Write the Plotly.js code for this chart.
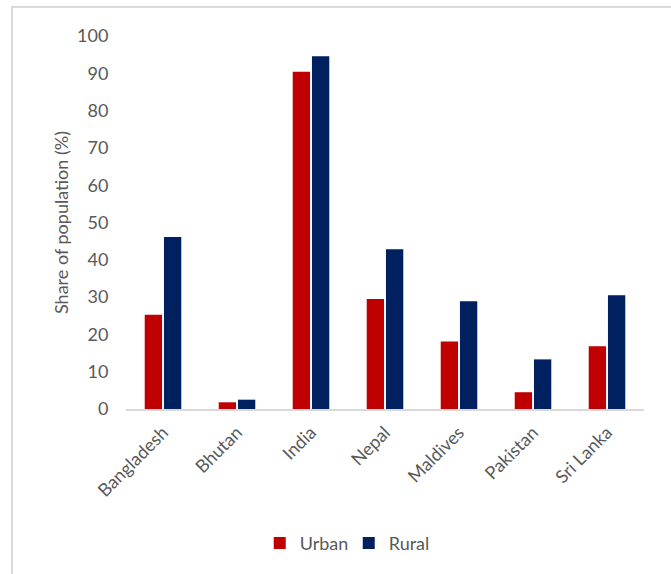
<!DOCTYPE html>
<html>
<head>
<meta charset="utf-8">
<script src="https://cdn.plot.ly/plotly-3.0.1.min.js"></script>
<style>
  html, body { margin: 0; padding: 0; background: #ffffff; }
  #wrap { position: relative; width: 671px; height: 574px; overflow: hidden; }
  #chart { position: absolute; left: 0; top: 0; width: 671px; height: 574px; }
  #frame { position: absolute; left: 11px; top: 6px; width: 700px; height: 600px;
           border-left: 2px solid #d9d9d9; border-top: 2px solid #d9d9d9; pointer-events: none; }
</style>
</head>
<body>
<div id="wrap">
  <div id="chart"></div>
  <div id="frame"></div>
</div>
<script>
// Share of population (%) by country, urban vs rural
const countries = ["Bangladesh", "Bhutan", "India", "Nepal", "Maldives", "Pakistan", "Sri Lanka"];
const urban = [25.3, 1.8, 90.4, 29.5, 18.1, 4.5, 16.8];
const rural = [46.1, 2.5, 94.6, 42.8, 28.9, 13.3, 30.5];

const fontFamily = "Lato, 'Open Sans', 'Liberation Sans', sans-serif";
const textGray = "#595959";

const traces = [
  { type: "bar", name: "Urban", x: countries, y: urban,
    marker: { color: "#C00000" } },
  { type: "bar", name: "Rural", x: countries, y: rural,
    marker: { color: "#002060" } }
];

const layout = {
  width: 671, height: 574,
  margin: { l: 126, r: 27, t: 36, b: 165, autoexpand: false },
  paper_bgcolor: "#ffffff", plot_bgcolor: "#ffffff",
  font: { family: fontFamily, color: textGray, size: 18 },
  barmode: "group", bargap: 0.48, bargroupgap: 0.1,
  showlegend: true,
  legend: { orientation: "h", x: 0.43, xanchor: "center", y: -0.36, yanchor: "middle",
            font: { size: 18, color: textGray }, itemwidth: 30, traceorder: "normal",
            entrywidth: 44, entrywidthmode: "pixels" },
  xaxis: { type: "category", showline: true, linecolor: "#d9d9d9", linewidth: 2,
           ticks: "outside", ticklen: 4, tickcolor: "rgba(0,0,0,0)",
           tickangle: -45, tickfont: { size: 18, color: textGray },
           showgrid: false, zeroline: false, fixedrange: true, automargin: false },
  yaxis: { range: [0, 100], dtick: 10, showgrid: false, zeroline: false, showline: false,
           ticks: "outside", ticklen: 13, tickcolor: "rgba(0,0,0,0)",
           tickfont: { size: 18, color: textGray }, fixedrange: true, automargin: false,
           title: { text: "Share of population (%)", font: { size: 18, color: textGray }, standoff: 3 } }
};

Plotly.newPlot("chart", traces, layout, { displayModeBar: false, staticPlot: true });
</script>
</body>
</html>
